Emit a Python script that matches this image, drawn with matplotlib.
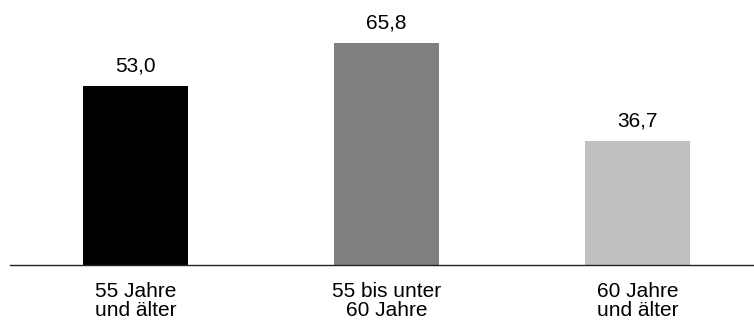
import matplotlib
matplotlib.use("Agg")
import matplotlib.pyplot as plt

categories = ["55 Jahre\nund älter", "55 bis unter\n60 Jahre", "60 Jahre\nund älter"]
values = [53.0, 65.8, 36.7]
labels = ["53,0", "65,8", "36,7"]
colors = ["#000000", "#808080", "#c0c0c0"]

plt.rcParams['font.family'] = ['Liberation Sans', 'DejaVu Sans']

W, H = 754, 322
fig = plt.figure(figsize=(W/100, H/100), dpi=100)
ax = fig.add_axes([10/W, 57.5/H, 753/W, 264.5/H])
x = list(range(len(values)))
ax.bar(x, values, width=0.418, color=colors)
ax.set_xlim(-0.5, 2.5)
ax.set_ylim(0, 78.7)
for xi, v, l in zip(x, values, labels):
    ax.annotate(l, (xi, v), xytext=(0, 15), textcoords="offset pixels",
                ha="center", va="baseline", fontsize=15)
ax.set_xticks(x)
ax.set_xticklabels(categories, fontsize=15, linespacing=1.0)
ax.tick_params(axis="x", length=0, pad=12.5)
ax.set_yticks([])
for s in ["top", "left", "right"]:
    ax.spines[s].set_visible(False)
ax.spines["bottom"].set_color("#222222")
ax.spines["bottom"].set_linewidth(1.0)
fig.savefig("out.png", dpi=100)
